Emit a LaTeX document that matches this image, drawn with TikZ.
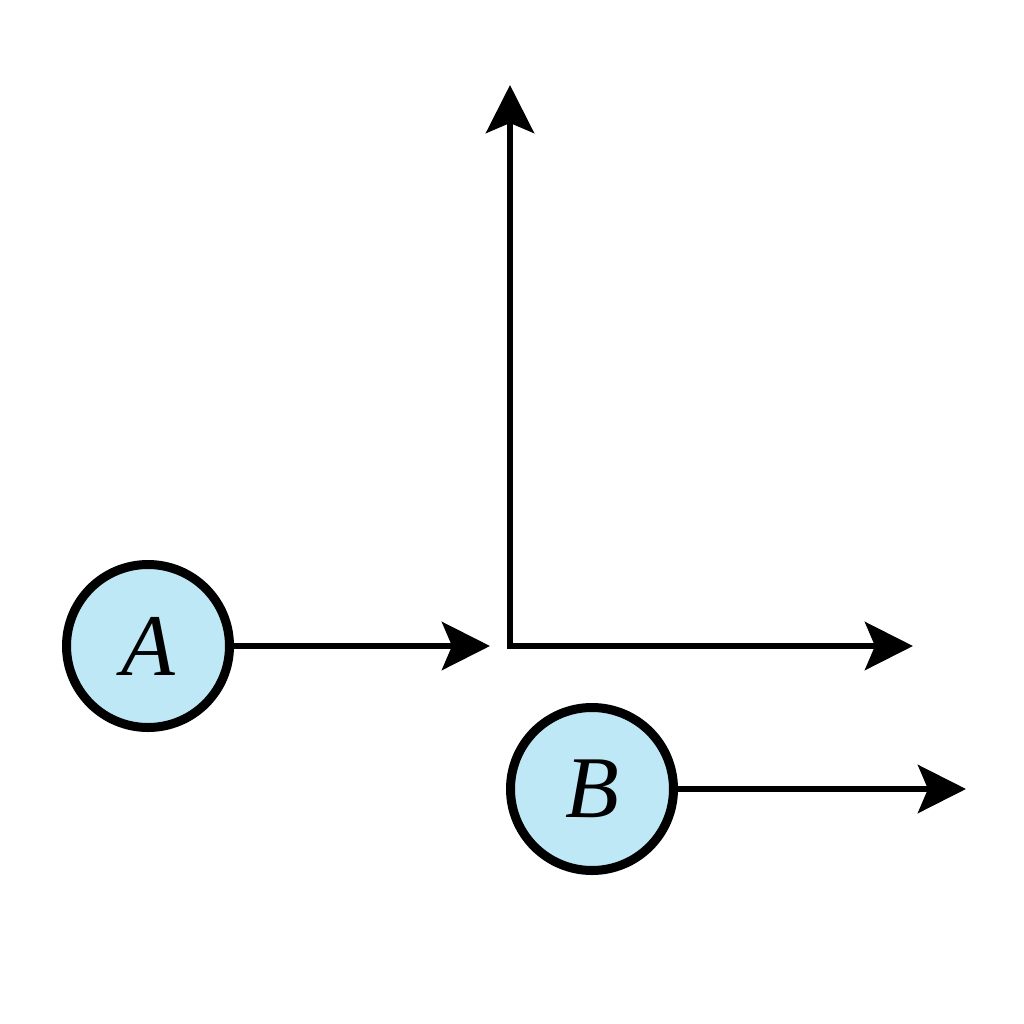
\documentclass[tikz,border=0pt]{standalone}
\usepackage{fontspec}
\setmainfont{Liberation Serif}
\usetikzlibrary{arrows.meta}
\definecolor{ballfill}{RGB}{190,232,246}
\begin{document}
\begin{tikzpicture}[x=0.5pt,y=-0.5pt,
  ball/.style={circle,draw=black,fill=ballfill,line width=4.5pt,minimum size=81.5pt,inner sep=0pt,
    font=\fontsize{44}{44}\selectfont\itshape},
  tip/.style={Stealth[length=24pt,width=24pt,inset=5pt]},
  arr/.style={line width=3.2pt,-{Stealth[length=24pt,width=24pt,inset=5pt]}}]
  \useasboundingbox (0,0) rectangle (1024,1024);
  \node[ball] (A) at (148,646) {A};
  \node[ball] (B) at (592,789) {B};
  \coordinate (O) at (510,646);
  \coordinate (ytip) at (510,85);
  \coordinate (xtip) at (913,646);
  \coordinate (atip) at (490,646);
  \coordinate (btip) at (966,789);
  \draw[line width=3.2pt,{Stealth[length=24pt,width=24pt,inset=5pt]}-{Stealth[length=24pt,width=24pt,inset=5pt]}] (ytip) -- (O) -- (xtip);
  \draw[arr] (A.east) -- (atip);
  \draw[arr] (B.east) -- (btip);
\end{tikzpicture}
\end{document}
